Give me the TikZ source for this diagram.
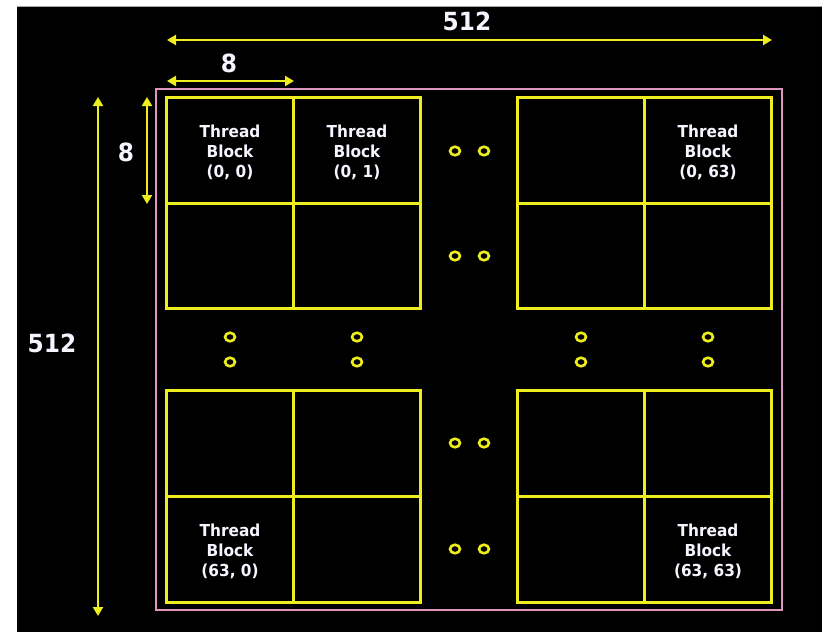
\documentclass[tikz,border=0pt]{standalone}
\usepackage{fontspec}
\usetikzlibrary{arrows.meta,shapes.geometric}
\newfontfamily\lblfont{DejaVu Sans}[FakeStretch=0.93]
\definecolor{gridyellow}{RGB}{238,238,30}
\definecolor{framepink}{RGB}{222,150,192}
\definecolor{labelwhite}{RGB}{245,245,255}
\tikzset{
  cell/.style={draw=gridyellow, line width=3pt},
  frame/.style={draw=framepink, line width=2.6pt},
  dimarrow/.style={draw=gridyellow, line width=2.6pt, {Triangle[length=9pt,width=10pt]}-{Triangle[length=9pt,width=10pt]}},
  dimlabel/.style={text=labelwhite, font=\lblfont\bfseries\fontsize{25}{28}\selectfont, inner sep=0pt},
  blocklabel/.style={text=labelwhite, font=\lblfont\bfseries\fontsize{16.5}{20}\selectfont, align=center, inner sep=0pt},
  dot/.style={draw=gridyellow, line width=2.6pt, ellipse, minimum width=10pt, minimum height=8.5pt, inner sep=0pt}
}
\begin{document}
\begin{tikzpicture}[x=1pt,y=-1pt]
\useasboundingbox (0,0) rectangle (822,632);
\fill[white] (0,0) rectangle (822,632);
\fill[black] (17,6) rectangle (822,632);
\draw[gray!70, line width=1pt] (17,6) -- (822,6);

% outer frame
\draw[frame] (156,89) rectangle (782,610);

% grid cells (quadrants)
\foreach \x/\xx in {166/293, 293/420, 517/644, 644/771}{
  \foreach \y/\yy in {97/203, 203/308, 390/496, 496/602}{
    \draw[cell] (\x,\y) rectangle (\xx,\yy);
  }
}

% named coordinates for dimension arrows
\coordinate (topL) at (167,40);
\coordinate (topR) at (772,40);
\coordinate (eightL) at (167,81);
\coordinate (eightR) at (294,81);
\coordinate (leftT) at (98,97);
\coordinate (leftB) at (98,616);
\coordinate (vT) at (147,97);
\coordinate (vB) at (147,204);

\draw[dimarrow] (topL) -- (topR);
\draw[dimarrow] (eightL) -- (eightR);
\draw[dimarrow] (leftT) -- (leftB);
\draw[dimarrow] (vT) -- (vB);

\node[dimlabel] (w512) at (467,21) {512};
\node[dimlabel] (w8) at (229,63) {8};
\node[dimlabel] (h512) at (52,343) {512};
\node[dimlabel] (h8) at (126,152) {8};

% block labels
\node[blocklabel] (b00) at (230,152) {Thread\\Block\\(0, 0)};
\node[blocklabel] (b01) at (357,152) {Thread\\Block\\(0, 1)};
\node[blocklabel] (b063) at (708,152) {Thread\\Block\\(0, 63)};
\node[blocklabel] (b630) at (230,551) {Thread\\Block\\(63, 0)};
\node[blocklabel] (b6363) at (708,551) {Thread\\Block\\(63, 63)};

% ellipsis dots, horizontal pairs
\foreach \y [count=\i] in {151,256,443,549}{
  \node[dot] (hd\i a) at (455,\y) {};
  \node[dot] (hd\i b) at (484,\y) {};
}
% ellipsis dots, vertical pairs
\foreach \x [count=\i] in {230,357,581,708}{
  \node[dot] (vd\i a) at (\x,337) {};
  \node[dot] (vd\i b) at (\x,362) {};
}
\end{tikzpicture}
\end{document}
